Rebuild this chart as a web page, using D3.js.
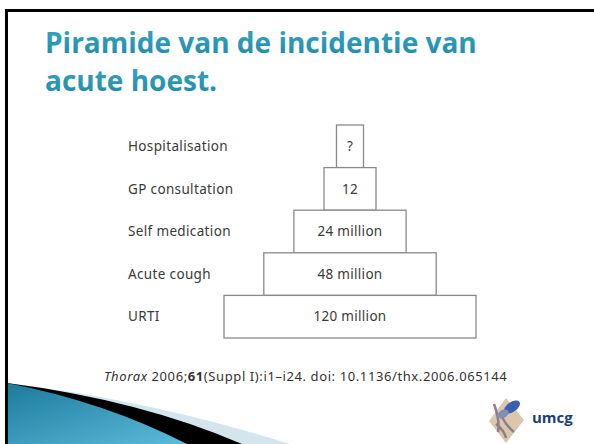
<!DOCTYPE html>
<html>
<head>
<meta charset="utf-8">
<script src="https://cdn.jsdelivr.net/npm/d3@7"></script>
<style>
  body { margin: 0; background: #fff; }
  svg { display: block; }
</style>
</head>
<body>
<div id="slide"></div>
<script>
// Pyramid data (top to bottom)
const categories = ['Hospitalisation', 'GP consultation', 'Self medication', 'Acute cough', 'URTI'];
const incidence = [null, 12e6, 24e6, 48e6, 120e6]; // null = unknown
const valueLabels = ['?', '12', '24 million', '48 million', '120 million'];

const titleLines = ['Piramide van de incidentie van', 'acute hoest.'];
const citation = ['Thorax', ' 2006;', '61', '(Suppl I):i1\u2013i24. doi: 10.1136/thx.2006.065144'];

const width = 594;
const height = 444;

const svg = d3.select('#slide')
    .append('svg')
    .attr('width', width)
    .attr('height', height);

const defs = svg.append('defs');

const swooshGrad = defs.append('linearGradient')
    .attr('id', 'swoosh')
    .attr('x1', '0%').attr('y1', '0%')
    .attr('x2', '100%').attr('y2', '100%');
swooshGrad.append('stop').attr('offset', '0%').attr('stop-color', '#1c7a9c');
swooshGrad.append('stop').attr('offset', '100%').attr('stop-color', '#5cbadb');

const titleGrad = defs.append('linearGradient')
    .attr('id', 'titlefill')
    .attr('x1', 0).attr('y1', 0).attr('x2', 0).attr('y2', 1);
titleGrad.append('stop').attr('offset', '0%').attr('stop-color', '#39a9c6');
titleGrad.append('stop').attr('offset', '100%').attr('stop-color', '#1f87a6');

// Slide frame
svg.append('rect')
    .attr('x', 6.5)
    .attr('y', 10.5)
    .attr('width', width + 10)
    .attr('height', height + 10)
    .attr('fill', 'none')
    .attr('stroke', '#000')
    .attr('stroke-width', 3);

// Title
svg.append('g')
    .selectAll('text')
    .data(titleLines)
    .join('text')
    .attr('x', 45)
    .attr('y', (d, i) => 53 + i * 38)
    .attr('font-family', '"Open Sans", sans-serif')
    .attr('font-weight', 'bold')
    .attr('font-size', 28)
    .attr('fill', 'url(#titlefill)')
    .text(d => d);

// Pyramid scales
const y = d3.scaleBand()
    .domain(categories)
    .range([125, 338]);

const w = d3.scaleLog()
    .domain([9e6, 120e6])
    .range([27, 252]);

const centerX = 350;
const rows = categories.map((c, i) => ({
    category: c,
    value: incidence[i],
    label: valueLabels[i],
    width: incidence[i] == null ? w.range()[0] : w(incidence[i])
}));

const pyramid = svg.append('g');

pyramid.selectAll('rect')
    .data(rows)
    .join('rect')
    .attr('x', d => centerX - d.width / 2)
    .attr('y', d => y(d.category))
    .attr('width', d => d.width)
    .attr('height', y.bandwidth())
    .attr('fill', '#fff')
    .attr('stroke', '#8a8a8a')
    .attr('stroke-width', 1.3);

pyramid.selectAll('text.value')
    .data(rows)
    .join('text')
    .attr('class', 'value')
    .attr('x', centerX)
    .attr('y', d => y(d.category) + y.bandwidth() / 2)
    .attr('dy', '0.35em')
    .attr('text-anchor', 'middle')
    .attr('font-family', '"Noto Sans", sans-serif')
    .attr('font-size', 13.5)
    .attr('letter-spacing', 0.3)
    .attr('fill', '#3a3a3a')
    .text(d => d.label);

pyramid.selectAll('text.cat')
    .data(rows)
    .join('text')
    .attr('class', 'cat')
    .attr('x', 128)
    .attr('y', d => y(d.category) + y.bandwidth() / 2)
    .attr('dy', '0.35em')
    .attr('font-family', '"Noto Sans", sans-serif')
    .attr('font-size', 13.5)
    .attr('letter-spacing', 0.35)
    .attr('fill', '#3a3a3a')
    .text(d => d.category);

// Citation
const cite = svg.append('text')
    .attr('x', 104)
    .attr('y', 381)
    .attr('font-family', '"Noto Sans", sans-serif')
    .attr('font-size', 13)
    .attr('letter-spacing', 0.6)
    .attr('fill', '#333');
cite.selectAll('tspan')
    .data(citation)
    .join('tspan')
    .attr('font-style', (d, i) => i === 0 ? 'italic' : null)
    .attr('font-weight', (d, i) => i === 2 ? 'bold' : null)
    .text(d => d);

// Bottom-left swoosh
svg.append('path')
    .attr('d', 'M7,383 Q150,400 290,444 L7,444 Z')
    .attr('fill', '#d3e6ee');
svg.append('path')
    .attr('d', 'M7,383 Q140,400 242,444 L7,444 Z')
    .attr('fill', '#000');
svg.append('path')
    .attr('d', 'M7,383 Q105,402 187,444 L7,444 Z')
    .attr('fill', 'url(#swoosh)');
svg.append('line')
    .attr('x1', 6.5).attr('y1', 380)
    .attr('x2', 6.5).attr('y2', height)
    .attr('stroke', '#000')
    .attr('stroke-width', 3);

// Logo
const logo = svg.append('g');
logo.append('path')
    .attr('d', 'M506,398 L524,420 L506,443 L489,421 Z')
    .attr('fill', '#dcc6ae');
logo.append('path')
    .attr('d', 'M494,404 Q500,420 498,432 M500,414 Q508,428 514,432 M496,424 Q504,430 506,438')
    .attr('fill', 'none')
    .attr('stroke', '#8d7f85')
    .attr('stroke-width', 2.5);
logo.append('ellipse')
    .attr('cx', 512)
    .attr('cy', 407)
    .attr('rx', 9)
    .attr('ry', 5)
    .attr('transform', 'rotate(-35 512 407)')
    .attr('fill', '#3a5fb0');
logo.append('ellipse')
    .attr('cx', 503)
    .attr('cy', 414)
    .attr('rx', 6)
    .attr('ry', 4)
    .attr('transform', 'rotate(-30 503 414)')
    .attr('fill', '#7f8fb8');
logo.append('text')
    .attr('x', 532)
    .attr('y', 423)
    .attr('font-family', '"Open Sans", sans-serif')
    .attr('font-weight', 'bold')
    .attr('font-size', 15)
    .attr('fill', '#1d3f73')
    .text('umcg');
</script>
</body>
</html>
